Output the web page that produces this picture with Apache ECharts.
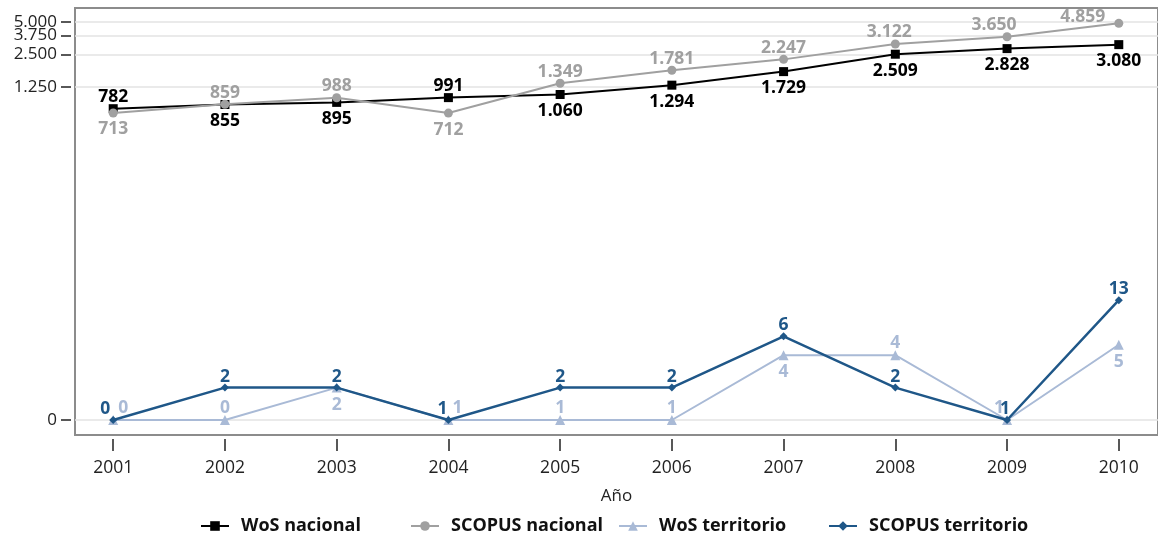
<!DOCTYPE html>
<html>
<head>
<meta charset="utf-8">
<script src="https://cdn.jsdelivr.net/npm/echarts@6/dist/echarts.min.js"></script>
<style>
    html, body { margin: 0; padding: 0; background: #fff; }
    #chart { width: 1158px; height: 540px; }
</style>
</head>
<body>
<div id="chart"></div>
<script>
const years = [2001, 2002, 2003, 2004, 2005, 2006, 2007, 2008, 2009, 2010];

const wosNacional = [782, 855, 895, 991, 1060, 1294, 1729, 2509, 2828, 3080];
const scopusNacional = [713, 859, 988, 712, 1349, 1781, 2247, 3122, 3650, 4859];
const wosTerritorio = [0, 0, 2, 1, 1, 1, 4, 4, 1, 5];
const scopusTerritorio = [0, 2, 2, 1, 2, 2, 6, 2, 1, 13];

// 5.000 sits too close to 3.750 for one axis' overlap check, so it gets its own twin axis
const yTickValues = [1, 1250, 2500, 3750];
const yTopTickValues = [5000];

const seriesNames = ['WoS nacional', 'SCOPUS nacional', 'WoS territorio', 'SCOPUS territorio'];
const legendLefts = [200, 410, 618, 828];

// where each value label sits (kept apart from the values)
const wosNacionalLabelPos = ['top', 'bottom', 'bottom', 'top', 'bottom', 'bottom', 'bottom', 'bottom', 'bottom', 'bottom'];
const scopusNacionalLabelPos = ['bottom', 'top', 'top', 'bottom', 'top', 'top', 'top', 'top', 'top', 'top'];
const scopusNacionalLabelShift = [0, 0, 0, 0, 0, 0, 0, [-6, 0], [-13, 0], [-36, 5]];
const wosTerritorioLabelPos = ['top', 'top', 'bottom', 'top', 'top', 'top', 'bottom', 'top', 'top', 'bottom'];
const wosTerritorioLabelShift = [10, 0, 0, 9, 0, 0, 0, 0, -8, 0];
const scopusTerritorioLabelPos = ['top', 'top', 'top', 'top', 'top', 'top', 'top', 'top', 'top', 'top'];
const scopusTerritorioLabelShift = [-8, 0, 0, -6, 0, 0, 0, 0, -2, 0];

const FONT = '"Open Sans", "Noto Sans", sans-serif';
const Y_MIN = 0.7255;
const Y_MAX = 6745;

function fmt(n) {
    return String(Math.round(n)).replace(/\B(?=(\d{3})+(?!\d))/g, '.');
}

function toOffset(s) {
    if (Array.isArray(s)) return s;
    return [s || 0, 0];
}

function buildSeries({name, values, color, symbol, symbolSize, lineWidth, labelPos, labelShift, z}) {
    return {
        name: name,
        type: 'line',
        yAxisIndex: 0,
        z: z,
        symbol: symbol,
        symbolSize: symbolSize,
        showAllSymbol: true,
        lineStyle: {color: color, width: lineWidth},
        itemStyle: {color: color},
        emphasis: {disabled: true},
        label: {
            show: true,
            color: color,
            fontFamily: FONT,
            fontWeight: 'bold',
            fontSize: 17.5,
            formatter: p => fmt(p.data.raw)
        },
        // zero can't sit on a log axis, it is drawn on the "0" baseline (=1)
        data: values.map((v, i) => ({
            value: [years[i], Math.max(v, 1)],
            raw: v,
            label: {
                position: labelPos[i],
                distance: labelPos[i] === 'top' ? -2 : 3,
                offset: toOffset(labelShift ? labelShift[i] : 0)
            }
        }))
    };
}

function buildYAxis(ticks) {
    return {
        type: 'log',
        logBase: 10,
        min: Y_MIN,
        max: Y_MAX,
        position: 'left',
        offset: 4,
        axisLine: {show: false},
        axisTick: {show: true, length: 10, lineStyle: {color: '#222', width: 1.5}, customValues: ticks},
        axisLabel: {
            fontSize: 17,
            color: '#222',
            margin: 14,
            showMinLabel: true,
            showMaxLabel: true,
            customValues: ticks,
            formatter: v => (v <= 1 ? '0' : fmt(v))
        },
        splitLine: {show: true, lineStyle: {color: '#e3e3e3', width: 1.5}}
    };
}

const chart = echarts.init(document.getElementById('chart'));

chart.setOption({
    animation: false,
    textStyle: {fontFamily: FONT},
    grid: {
        left: 75,
        top: 8,
        right: -3,
        bottom: 105,
        show: true,
        borderColor: '#8c8c8c',
        borderWidth: 2
    },
    xAxis: {
        type: 'value',
        min: 2000.658,
        max: 2010.351,
        offset: 4,
        name: 'Año',
        nameLocation: 'middle',
        nameGap: 49,
        nameTextStyle: {fontSize: 17, color: '#222', fontFamily: FONT},
        axisLine: {show: false},
        axisTick: {show: true, length: 12, lineStyle: {color: '#222', width: 1.5}, customValues: years},
        axisLabel: {
            fontSize: 17.5,
            color: '#222',
            margin: 20,
            customValues: years,
            formatter: v => String(v)
        },
        splitLine: {show: false}
    },
    yAxis: [buildYAxis(yTickValues), buildYAxis(yTopTickValues)],
    legend: seriesNames.map((name, i) => ({
        left: legendLefts[i],
        top: 517,
        padding: 0,
        itemWidth: 28,
        itemHeight: 12,
        selectedMode: false,
        textStyle: {fontFamily: FONT, fontWeight: 'bold', fontSize: 18, color: '#111', padding: [0, 0, 0, 7]},
        data: [name]
    })),
    series: [
        buildSeries({
            name: seriesNames[0], values: wosNacional, color: '#000000',
            symbol: 'rect', symbolSize: 9, lineWidth: 2,
            labelPos: wosNacionalLabelPos, z: 3
        }),
        buildSeries({
            name: seriesNames[1], values: scopusNacional, color: '#a0a0a0',
            symbol: 'circle', symbolSize: 9, lineWidth: 2,
            labelPos: scopusNacionalLabelPos, labelShift: scopusNacionalLabelShift, z: 4
        }),
        buildSeries({
            name: seriesNames[2], values: wosTerritorio, color: '#a9bad6',
            symbol: 'triangle', symbolSize: 10, lineWidth: 2,
            labelPos: wosTerritorioLabelPos, labelShift: wosTerritorioLabelShift, z: 2
        }),
        buildSeries({
            name: seriesNames[3], values: scopusTerritorio, color: '#1f5788',
            symbol: 'diamond', symbolSize: 8, lineWidth: 2.5,
            labelPos: scopusTerritorioLabelPos, labelShift: scopusTerritorioLabelShift, z: 5
        })
    ]
});
</script>
</body>
</html>
